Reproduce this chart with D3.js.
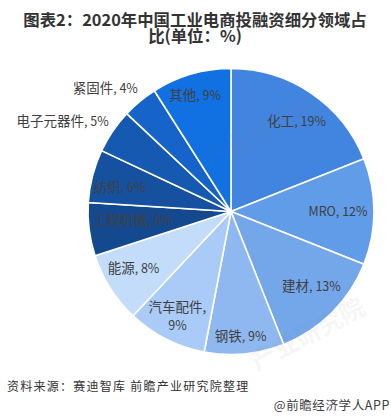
<!DOCTYPE html>
<html>
<head>
<meta charset="utf-8">
<script src="https://cdn.jsdelivr.net/npm/d3@7"></script>
<style>
  html, body { margin: 0; padding: 0; background: #fff; }
  text { font-family: "Noto Sans CJK SC", "Noto Sans", sans-serif; }
</style>
</head>
<body>
<div id="viz"></div>
<script>
var categories = ['化工', 'MRO', '建材', '钢铁', '汽车配件', '能源', '工程机械', '纺织', '电子元器件', '紧固件', '其他'];
var shares = [19, 12, 13, 9, 9, 8, 6, 6, 5, 4, 9];
var colors = ['#4285e0', '#619ce8', '#74a7ea', '#8fb8f0', '#aacbf7', '#c3dcfa', '#15498f', '#16519f', '#1659b0', '#1664c9', '#1271e2'];
var titleLines = ['图表2：2020年中国工业电商投融资细分领域占', '比(单位：%)'];

var width = 391, height = 419;
var radius = 143;

// how far out each label sits, and small nudges in degrees
var labelRadius = [111, 107, 110, 125, 118, 113, 99, 114, 191, 176, 121];
var labelNudge = [2, 0, -2, 1, 0, 2, 2, -2, -6, -6, -1];

var svg = d3.select('#viz').append('svg')
    .attr('width', width)
    .attr('height', height);

// Title
svg.selectAll('.title')
    .data(titleLines)
    .enter().append('text')
    .attr('class', 'title')
    .attr('x', 195)
    .attr('y', function(d, i) { return 26 + i * 16; })
    .attr('text-anchor', 'middle')
    .attr('font-size', 16.4)
    .attr('font-weight', 700)
    .attr('fill', '#333')
    .text(function(d) { return d; });

var g = svg.append('g')
    .attr('transform', 'translate(231,211.5)');

var pie = d3.pie().sort(null);
var arc = d3.arc().innerRadius(0).outerRadius(radius);
var slices = pie(shares);

g.selectAll('.slice')
    .data(slices)
    .enter().append('path')
    .attr('class', 'slice')
    .attr('d', arc)
    .attr('fill', function(d, i) { return colors[i]; })
    .attr('stroke', '#fff')
    .attr('stroke-width', 1.6);

// Labels sit along each slice's middle angle
var labels = g.selectAll('.label')
    .data(slices)
    .enter().append('text')
    .attr('class', 'label')
    .attr('text-anchor', 'middle')
    .attr('font-size', 12.5)
    .attr('fill', '#404040')
    .attr('transform', function(d, i) {
      var a = (d.startAngle + d.endAngle) / 2 + labelNudge[i] * Math.PI / 180;
      var x = Math.sin(a) * labelRadius[i];
      var y = -Math.cos(a) * labelRadius[i];
      return 'translate(' + x + ',' + (y + 4.5) + ')';
    });

labels.each(function(d, i) {
  var t = d3.select(this);
  if (categories[i] === '汽车配件') {
    t.append('tspan').attr('x', 0).attr('dy', -9).attr('font-size', 13.5).text(categories[i] + ',');
    t.append('tspan').attr('x', 0).attr('dy', 18).text(shares[i] + '%');
  } else {
    t.append('tspan').attr('font-size', categories[i] === 'MRO' ? 12.5 : 13.5).text(categories[i]);
    t.append('tspan').text(', ' + shares[i] + '%');
  }
});

// Watermarks lie faintly over the pie
var marks = [[265, 140], [312, 342]];
svg.selectAll('.mark')
    .data(marks)
    .enter().append('text')
    .attr('class', 'mark')
    .attr('transform', function(d) { return 'translate(' + d[0] + ',' + d[1] + ') rotate(-28)'; })
    .attr('text-anchor', 'middle')
    .attr('font-size', 25)
    .attr('font-weight', 700)
    .attr('fill', '#777')
    .attr('fill-opacity', 0.08)
    .text('产业研究院');

// Source and credit lines
svg.append('text')
    .attr('x', 7)
    .attr('y', 391)
    .attr('font-size', 12)
    .attr('letter-spacing', 1.25)
    .attr('fill', '#333')
    .text('资料来源：赛迪智库 前瞻产业研究院整理');

svg.append('text')
    .attr('x', 390)
    .attr('y', 410)
    .attr('text-anchor', 'end')
    .attr('font-size', 12.5)
    .attr('letter-spacing', 0.6)
    .attr('fill', '#404040')
    .text('@前瞻经济学人APP');
</script>
</body>
</html>
